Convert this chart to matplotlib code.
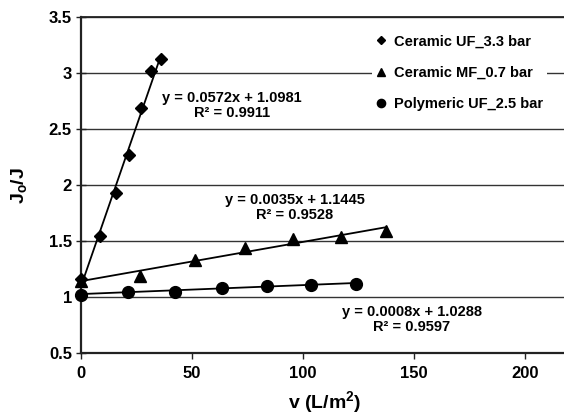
import numpy as np
import matplotlib.pyplot as plt

plt.rcParams['font.family'] = ['Liberation Sans', 'DejaVu Sans']
plt.rcParams['font.weight'] = 'bold'
plt.rcParams['mathtext.fontset'] = 'custom'
plt.rcParams['mathtext.rm'] = 'Liberation Sans:bold'
plt.rcParams['mathtext.bf'] = 'Liberation Sans:bold'
plt.rcParams['mathtext.it'] = 'Liberation Sans:bold'

uf33_v = [0, 8.6, 15.8, 21.8, 26.9, 31.4, 36.0]
uf33_j = [1.16, 1.55, 1.93, 2.27, 2.69, 3.02, 3.13]
mf07_v = [0, 26.6, 51.4, 73.9, 95.6, 117.0, 137.7]
mf07_j = [1.15, 1.19, 1.33, 1.44, 1.52, 1.54, 1.59]
puf25_v = [0, 21.3, 42.3, 63.4, 83.9, 103.9, 123.9]
puf25_j = [1.02, 1.05, 1.05, 1.08, 1.10, 1.11, 1.12]

series_labels = ['Ceramic UF_3.3 bar', 'Ceramic MF_0.7 bar', 'Polymeric UF_2.5 bar']
fit_slopes = [0.0572, 0.0035, 0.0008]
fit_icepts = [1.0981, 1.1445, 1.0288]
fit_r2 = ['0.9911', '0.9528', '0.9597']


def main():
    fig = plt.figure(figsize=(5.64, 4.2), dpi=100)
    ax = fig.add_axes([81 / 564, 1 - 353.3 / 420, 488 / 564, 336 / 420])

    ax.set_xlim(0, 220)
    ax.set_ylim(0.5, 3.5)
    ax.set_xticks([0, 50, 100, 150, 200])
    ax.set_yticks([0.5, 1, 1.5, 2, 2.5, 3, 3.5])
    ax.set_yticklabels(['0.5', '1', '1.5', '2', '2.5', '3', '3.5'])
    ax.yaxis.grid(True, color='#333333', lw=1.0)
    ax.axhline(3.5, color='#222222', lw=1.3, clip_on=False, zorder=1)
    ax.set_axisbelow(True)
    for s in ('right', 'top'):
        ax.spines[s].set_visible(False)
    for s in ('left', 'bottom'):
        ax.spines[s].set_linewidth(1.6)
        ax.spines[s].set_color('#222222')
    ax.tick_params(axis='both', length=4, width=1, color='#222222',
                   labelsize=12, pad=3)
    ax.tick_params(axis='x', pad=5)
    ax.tick_params(axis='y', direction='inout', length=7)

    data = [(uf33_v, uf33_j, 'D', 6.3),
            (mf07_v, mf07_j, '^', 8.5),
            (puf25_v, puf25_j, 'o', 8.5)]
    handles = []
    for (xs, ys, mk, ms), lab, m, b in zip(data, series_labels,
                                            fit_slopes, fit_icepts):
        h, = ax.plot(xs, ys, ls='none', marker=mk, ms=ms, color='black',
                     label=lab, zorder=4, clip_on=False)
        handles.append(h)
        xx = np.array([0, max(xs)])
        ax.plot(xx, m * xx + b, color='black', lw=1.3, zorder=3)

    txt_pos = [(68, 2.71), (96.5, 1.80), (149, 0.80)]
    for (tx, ty), m, b, r2 in zip(txt_pos, fit_slopes, fit_icepts, fit_r2):
        ax.text(tx, ty, f'y = {m:.4f}x + {b:.4f}\nR\u00b2 = {r2}',
                ha='center', va='center', fontsize=10.5, fontweight='bold',
                multialignment='center', linespacing=1.1, zorder=5)

    leg = ax.legend(handles=handles, loc='upper left',
                    bbox_to_anchor=(372 / 564, 1 - 30 / 420),
                    bbox_transform=fig.transFigure, frameon=True,
                    facecolor='white', edgecolor='none', framealpha=1,
                    fancybox=False, fontsize=10.5, handlelength=0.7,
                    handletextpad=0.5, labelspacing=1.2, borderpad=0.3,
                    borderaxespad=0, markerscale=0.7)
    leg.set_zorder(6)

    ax.set_xlabel('v (L/m$^2$)', fontsize=14, fontweight='bold', labelpad=6)
    ax.set_ylabel(r'J$_{\mathrm{o}}$/J', fontsize=14, fontweight='bold',
                  labelpad=14)

    fig.savefig('out.png', dpi=100)


if __name__ == '__main__':
    main()
